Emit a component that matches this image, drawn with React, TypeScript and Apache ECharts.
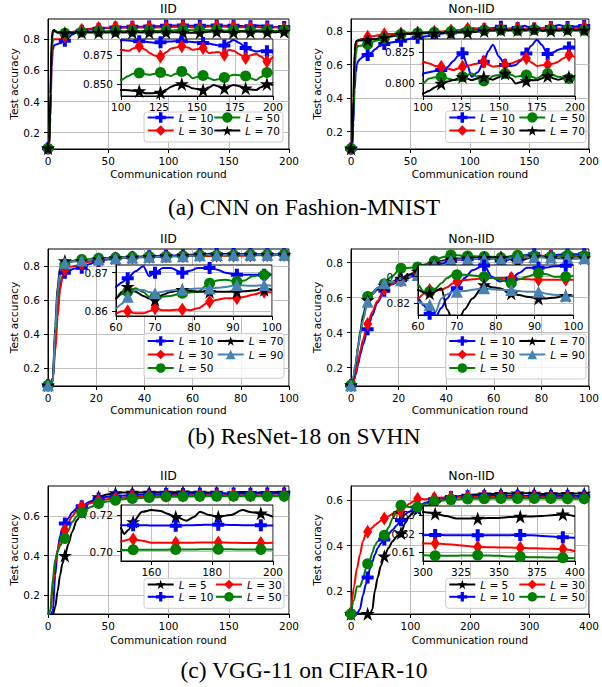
import React, { useEffect, useRef } from "react";
import * as echarts from "echarts";

// ---------------- DATA ----------------
// (a) CNN on Fashion-MNIST, IID
const aRounds = [0,1,2,3,4,5,6,8,10,12,14,17,20,24,28,35,42,49,56,63,70,77,84,91,98,100,105,108,112,116,119,122,126,130,133,136,140,144,147,150,154,158,161,164,168,171,174,178,182,185,189,192,196,200];
const aIidL10 = [0.10,0.12,0.30,0.62,0.73,0.76,0.765, 0.77,0.775,0.78,0.79, 0.81,0.83,0.845,0.855, 0.862,0.868,0.872,0.876, 0.878,0.88,0.881,0.882, 0.884,0.886,0.8885,0.888, 0.8875,0.8875,0.887,0.8865, 0.8862,0.8865,0.887,0.8872, 0.8875,0.8875,0.887,0.8868, 0.8865,0.886,0.8855,0.8845, 0.8838,0.8836,0.8865,0.8885, 0.886,0.8815,0.880,0.8785, 0.879,0.8787,0.8785];
const aIidL30 = [0.10,0.13,0.35,0.70,0.79,0.80,0.80, 0.80,0.80,0.805,0.82, 0.835,0.845,0.855,0.86, 0.868,0.872,0.874,0.878, 0.874,0.878,0.875,0.879, 0.876,0.879,0.880,0.879, 0.881,0.883,0.880,0.877, 0.875,0.874,0.878,0.881, 0.882,0.883,0.882,0.880, 0.8805,0.8815,0.877,0.8775, 0.878,0.8756,0.880,0.879, 0.876,0.8727,0.875,0.8765, 0.874,0.8697,0.8738];
const aIidL50 = [0.10,0.12,0.40,0.75,0.84,0.86,0.855, 0.845,0.84,0.838,0.838, 0.84,0.843,0.845,0.846, 0.848,0.85,0.851,0.852, 0.851,0.853,0.852,0.854, 0.853,0.855,0.8535,0.857, 0.859,0.8595,0.8585,0.858, 0.859,0.860,0.858,0.857, 0.859,0.861,0.8585,0.855, 0.856,0.8573,0.855,0.8535, 0.854,0.8556,0.857,0.858, 0.8575,0.857,0.855,0.8535, 0.856,0.860,0.859];
const aIidL70 = [0.10,0.11,0.45,0.80,0.855,0.86,0.85, 0.842,0.84,0.84,0.84, 0.841,0.842,0.842,0.843, 0.843,0.844,0.844,0.845, 0.844,0.845,0.844,0.845, 0.845,0.845,0.8447,0.8445, 0.844,0.8438,0.8418,0.8418, 0.842,0.8425,0.845,0.8476, 0.849,0.850,0.848,0.8462, 0.8455,0.8447,0.847,0.8491, 0.848,0.8462,0.848,0.8491, 0.848,0.8462,0.845,0.8447, 0.847,0.850,0.849];

// (a) CNN on Fashion-MNIST, Non-IID
const aNRounds = [0,1,2,3,4,5,6,8,10,12,14,17,20,24,28,35,42,49,56,63,70,77,84,91,98,100,104,108,112,116,120,123,126,129,132,136,140,143,146,150,154,158,161,164,168,171,175,178,182,186,189,192,196,200];
const aNonL10 = [0.10,0.11,0.25,0.45,0.55,0.60,0.62, 0.635,0.645,0.652,0.657, 0.67,0.69,0.71,0.722, 0.733,0.742,0.752,0.76, 0.768,0.776,0.785,0.792, 0.798,0.804,0.808,0.809, 0.810,0.8107,0.813,0.818, 0.822,0.8242,0.815,0.8053, 0.809,0.8174,0.826,0.8309, 0.8214,0.8147,0.814,0.8147, 0.818,0.824,0.830,0.835, 0.831,0.8236,0.825,0.827, 0.828,0.8287,0.828];
const aNonL30 = [0.10,0.12,0.35,0.60,0.70,0.735,0.745, 0.75,0.752,0.758,0.765, 0.768,0.77,0.775,0.78, 0.782,0.785,0.787,0.79, 0.792,0.795,0.797,0.802, 0.806,0.813,0.8174,0.816, 0.814,0.8134,0.812,0.8107, 0.812,0.8134,0.814,0.815, 0.816,0.8174,0.815,0.8134, 0.814,0.815,0.816,0.8174, 0.819,0.8201,0.817,0.814, 0.8145,0.815,0.816,0.8174, 0.820,0.8228,0.821];
const aNonL50 = [0.10,0.11,0.30,0.55,0.66,0.70,0.71, 0.712,0.715,0.718,0.72, 0.73,0.74,0.748,0.755, 0.768,0.78,0.785,0.788, 0.79,0.792,0.794,0.796, 0.798,0.80,0.800,0.804, 0.805,0.8053,0.804,0.8027, 0.803,0.8053,0.807,0.808, 0.805,0.8019,0.803,0.806, 0.8067,0.808,0.807,0.8053, 0.806,0.8067,0.8055,0.804, 0.806,0.808,0.8065,0.8053, 0.805,0.804,0.804];
const aNonL70 = [0.10,0.12,0.40,0.68,0.735,0.742,0.743, 0.743,0.744,0.745,0.746, 0.75,0.752,0.756,0.76, 0.77,0.78,0.782,0.784, 0.786,0.787,0.788,0.789, 0.79,0.791,0.792,0.794, 0.797,0.800,0.8015,0.8027, 0.804,0.8053,0.804,0.8027, 0.804,0.8053,0.804,0.803, 0.805,0.808,0.804,0.800, 0.801,0.8021,0.8025,0.8027, 0.804,0.806,0.804,0.803, 0.804,0.8053,0.805];

// (b) ResNet-18 on SVHN, IID
const bRounds = [0,1,2,3,4,5,6,7,9,11,14,17,21,24,28,31,35,38,42,45,49,52,56,58,60,61.5,63,65,67,68.5,70,72,74,77,79,81,84,86,88,91,93,95,98,100];
const bIidL10 = [0.10,0.11,0.14,0.35,0.55,0.68,0.74,0.76, 0.775,0.785,0.79, 0.81,0.83,0.838,0.845, 0.848,0.852,0.855,0.857, 0.859,0.861,0.862,0.864, 0.8655,0.8664,0.8675,0.8686, 0.8704,0.8717,0.8691,0.870, 0.8712,0.8712,0.870,0.8705, 0.8712,0.8712,0.8708,0.870, 0.8695,0.8695,0.8695,0.8695, 0.8695];
const bIidL30 = [0.10,0.12,0.14,0.30,0.50,0.66,0.74,0.78, 0.795,0.80,0.81, 0.825,0.835,0.84,0.845, 0.848,0.850,0.852,0.853, 0.855,0.856,0.857,0.858, 0.8585,0.8595,0.860,0.860, 0.8595,0.8595,0.860,0.8608, 0.8603,0.8603,0.8605,0.8603, 0.8608,0.8625,0.863,0.8634, 0.8634,0.8638,0.8643,0.8651, 0.8649];
const bIidL50 = [0.10,0.11,0.13,0.40,0.62,0.75,0.79,0.81, 0.825,0.832,0.838, 0.84,0.845,0.847,0.849, 0.851,0.853,0.855,0.856, 0.857,0.858,0.859,0.861, 0.862,0.8634,0.8645,0.8651, 0.866,0.865,0.8638,0.8637, 0.8638,0.864,0.8647,0.8649, 0.8651,0.8673,0.868,0.8682, 0.8677,0.868,0.8691,0.8694, 0.8696];
const bIidL70 = [0.10,0.11,0.12,0.45,0.68,0.79,0.82,0.83, 0.828,0.828,0.83, 0.835,0.84,0.843,0.846, 0.849,0.851,0.853,0.855, 0.857,0.858,0.859,0.861, 0.862,0.8634,0.865,0.8664, 0.8651,0.864,0.8633,0.863, 0.8643,0.865,0.8656,0.8653, 0.8651,0.8651,0.8651,0.8651, 0.8651,0.8652,0.8654,0.8656, 0.8656];
const bIidL90 = [0.10,0.11,0.12,0.42,0.65,0.77,0.81,0.82, 0.825,0.828,0.832, 0.836,0.84,0.843,0.846, 0.848,0.85,0.852,0.854, 0.855,0.856,0.857,0.858, 0.859,0.8608,0.862,0.8638, 0.8656,0.8655,0.865,0.8647, 0.8651,0.8654,0.8656,0.8658, 0.8659,0.8659,0.8661,0.8663, 0.8668,0.8667,0.8666,0.8668, 0.8666];

// (b) ResNet-18 on SVHN, Non-IID
const bNRounds = [0,1,2,3,4,5,7,9,11,14,17,21,24,28,31,35,38,42,45,49,52,56,58,60,61.5,63,64.5,66,67.5,69,70,72,74,77,79,81,84,86,88,91,93,95,98,100];
const bNonL10 = [0.10,0.12,0.16,0.22,0.28,0.33,0.42, 0.50,0.57,0.64,0.675, 0.70,0.715,0.73,0.75, 0.78,0.795,0.81,0.815, 0.82,0.822,0.825,0.8245, 0.8234,0.818,0.8116,0.809, 0.816,0.8234,0.830,0.8312, 0.839,0.845,0.8486,0.840, 0.8364,0.8385,0.8429,0.8468, 0.8468,0.847,0.8481,0.8485, 0.849];
const bNonL30 = [0.10,0.12,0.17,0.24,0.30,0.36,0.45, 0.52,0.58,0.65,0.68, 0.70,0.72,0.74,0.77, 0.80,0.81,0.815,0.818, 0.82,0.821,0.822,0.822, 0.8234,0.827,0.8298,0.830, 0.8298,0.832,0.835,0.8364, 0.8375,0.838,0.839,0.839, 0.839,0.839,0.8385,0.838, 0.8377,0.8377,0.8377,0.8377, 0.8377];
const bNonL50 = [0.10,0.14,0.22,0.33,0.42,0.50,0.606, 0.63,0.655,0.68,0.72, 0.768,0.77,0.775,0.79, 0.81,0.83,0.844,0.842, 0.838,0.836,0.835,0.834, 0.8338,0.8286,0.8286,0.831, 0.8351,0.839,0.8416,0.8416, 0.8416,0.841,0.840,0.839, 0.838,0.8351,0.838,0.840, 0.8429,0.842,0.840,0.840, 0.8405];
const bNonL70 = [0.10,0.14,0.22,0.32,0.40,0.48,0.587, 0.62,0.645,0.67,0.69, 0.71,0.73,0.75,0.77, 0.795,0.81,0.82,0.823, 0.825,0.826,0.828,0.829, 0.8298,0.828,0.8273,0.829, 0.8312,0.815,0.806,0.803, 0.815,0.8234,0.8338,0.832, 0.8312,0.8273,0.826,0.8247, 0.8234,0.8234,0.824,0.8255, 0.825];
const bNonL90 = [0.10,0.15,0.23,0.32,0.40,0.47,0.577, 0.62,0.655,0.682,0.69, 0.70,0.715,0.73,0.76, 0.79,0.805,0.815,0.818, 0.82,0.821,0.821,0.8215, 0.8208,0.819,0.8185,0.813, 0.8234,0.8265,0.8286,0.8286, 0.829,0.830,0.8312,0.8305, 0.830,0.8298,0.829,0.8286, 0.8286,0.827,0.8262,0.8255, 0.8255];

// (c) VGG-11 on CIFAR-10, IID
const cRounds = [0,2,4,6,8,10,12,14,17,20,24,28,35,42,49,56,63,70,84,98,112,126,140,150,151,152.5,154,157,160,163,165,168,171.5,174,176,179,182,186,190,193,196,200];
const cIidL5 = [0.10,0.10,0.10,0.14,0.22,0.30,0.36,0.40, 0.46,0.52,0.58,0.62, 0.67,0.698,0.71,0.718, 0.72,0.72,0.721,0.721, 0.722,0.721,0.72,0.7128, 0.7096,0.712,0.7163,0.7218, 0.7227,0.7222,0.7209,0.7191, 0.7169,0.719,0.7218,0.720, 0.7191,0.720,0.7227,0.7215, 0.721,0.7191];
const cIidL10 = [0.10,0.10,0.12,0.30,0.43,0.50,0.54,0.563, 0.59,0.62,0.64,0.65, 0.675,0.69,0.698,0.70, 0.705,0.708,0.71,0.712, 0.713,0.714,0.7145,0.7145, 0.7145,0.7145,0.7145,0.7145, 0.7143,0.7143,0.7143,0.7142, 0.7144,0.7145,0.7146,0.7147, 0.7147,0.7146,0.7145,0.7145, 0.7145,0.7143];
const cIidL30 = [0.10,0.12,0.25,0.36,0.43,0.47,0.50,0.529, 0.57,0.60,0.63,0.65, 0.665,0.68,0.686,0.69, 0.695,0.70,0.702,0.704, 0.705,0.705,0.7055,0.7054, 0.706,0.7066,0.7068,0.706, 0.7049,0.7049,0.7049,0.7049, 0.7049,0.7049,0.705,0.705, 0.705,0.7049,0.7048,0.7047, 0.7048,0.7049];
const cIidL50 = [0.10,0.12,0.28,0.38,0.42,0.45,0.47,0.487, 0.53,0.57,0.60,0.617, 0.645,0.664,0.674,0.681, 0.686,0.69,0.695,0.698, 0.70,0.7005,0.7008,0.7009, 0.7009,0.7009,0.701,0.701, 0.701,0.7011,0.7011,0.7012, 0.7012,0.7012,0.7013,0.7013, 0.7013,0.7013,0.7012,0.7012, 0.7012,0.7012];

// (c) VGG-11 on CIFAR-10, Non-IID
const cNRounds = [0,5,10,15,20,25,28,32,36,40,45,50,56,63,70,77,84,91,98,105,112,126,140,154,168,182,196,210,224,238,252,266,280,294,300,308,315,322,329,336,343,350,357,364,371,378,385,392,400];
const cNonL5 = [0.10,0.10,0.10,0.10,0.10,0.10,0.10, 0.10,0.12,0.20,0.26, 0.31,0.354,0.39,0.42, 0.44,0.456,0.50,0.53, 0.55,0.56,0.575,0.585, 0.60,0.61,0.618,0.622, 0.625,0.627,0.628,0.629, 0.63,0.631,0.6315,0.6317, 0.6309,0.6295,0.6282,0.6282, 0.6282,0.6284,0.6285,0.629, 0.6293,0.6293,0.6295,0.630, 0.6305,0.6294];
const cNonL10 = [0.10,0.10,0.10,0.12,0.18,0.23,0.26, 0.30,0.33,0.36,0.39, 0.41,0.427,0.45,0.47, 0.49,0.512,0.54,0.55, 0.56,0.57,0.59,0.605, 0.61,0.615,0.617,0.618, 0.619,0.619,0.619,0.6192, 0.6192,0.6191,0.6191,0.6191, 0.6192,0.6191,0.619,0.619, 0.6191,0.619,0.619,0.6191, 0.6192,0.619,0.6187,0.6183, 0.618,0.6177];
const cNonL30 = [0.10,0.22,0.30,0.36,0.42,0.45,0.461, 0.47,0.48,0.49,0.50, 0.51,0.52,0.53,0.54, 0.545,0.549,0.57,0.585, 0.595,0.607,0.605,0.61, 0.612,0.613,0.614,0.615, 0.615,0.615,0.615,0.615, 0.6148,0.6147,0.6146,0.6146, 0.6146,0.6142,0.6137,0.6132, 0.6127,0.6125,0.6124,0.6123, 0.6122,0.612,0.6118,0.6117, 0.6115,0.6103];
const cNonL50 = [0.10,0.16,0.22,0.22,0.25,0.30,0.32, 0.34,0.37,0.40,0.42, 0.43,0.446,0.48,0.52, 0.555,0.578,0.575,0.57, 0.57,0.57,0.585,0.595, 0.60,0.603,0.605,0.606, 0.607,0.607,0.6075,0.608, 0.608,0.6082,0.6082,0.6082, 0.6079,0.6078,0.6079,0.608, 0.6081,0.608,0.6078,0.6075, 0.6073,0.6071,0.607,0.6069, 0.6068,0.6065];

// tick labels
const mainTicksA = [0.2, 0.4, 0.6, 0.8];
const mainTicksC = [0.2, 0.4, 0.6];

// ---------------- STYLE ----------------
const FONT = "DejaVu Sans";
const BLUE = "#0000ff", RED = "#ff0000", GREEN = "#008000", BLACK = "#000000", STEEL = "#4682b4";
const PLUS = "path://M-2,-6H2V-2H6V2H2V6H-2V2H-6V-2H-2Z";
const STAR = "path://M0,-100L22.45,-30.9L95.1,-30.9L36.3,11.8L58.8,80.9L0,38.2L-58.8,80.9L-36.3,11.8L-95.1,-30.9L-22.45,-30.9Z";
const STYLE: Record<string, { color: string; symbol: string; size: number | number[] }> = {
  "L = 5": { color: BLACK, symbol: STAR, size: 14 },
  "L = 10": { color: BLUE, symbol: PLUS, size: 12 },
  "L = 30": { color: RED, symbol: "diamond", size: [9, 14] },
  "L = 50": { color: GREEN, symbol: "circle", size: 11 },
  "L = 70": { color: BLACK, symbol: STAR, size: 14 },
  "L = 90": { color: STEEL, symbol: "triangle", size: 12 },
};

type Box = { left: number; top: number; width: number; height: number };
type Panel = {
  id: string;
  title: string;
  titleX: number;
  titleY: number;
  xs: number[];
  lines: [string, number[]][];
  every: number;
  main: Box & { xMax: number; xInt: number; yMin: number; yMax: number; yTicks: number[]; nameGap: number };
  inset: Box & { xMin: number; xMax: number; xTicks: number[]; yMin: number; yMax: number; yTicks: number[]; dig: number };
  legendCols: string[][];
  legend: { cols: number[]; top: number; ih: number; gap: number; box: number[] };
};

const panels: Panel[] = [
  {
    id: "a1", title: "IID", titleX: 168.5, titleY: 8.5, xs: aRounds, every: 14,
    lines: [["L = 10", aIidL10], ["L = 30", aIidL30], ["L = 50", aIidL50], ["L = 70", aIidL70]],
    main: { left: 48, top: 19, width: 241, height: 130, xMax: 200, xInt: 50, yMin: 0.095, yMax: 0.93, yTicks: mainTicksA, nameGap: 19 },
    inset: { left: 121, top: 39, width: 152, height: 57, xMin: 100, xMax: 200, xTicks: [100, 125, 150, 175, 200], yMin: 0.8394, yMax: 0.8894, yTicks: [0.85, 0.875], dig: 3 },
    legendCols: [["L = 10", "L = 30"], ["L = 50", "L = 70"]],
    legend: { cols: [146.7, 213.3], top: 112, ih: 13, gap: 2, box: [144, 112, 139, 30] },
  },
  {
    id: "a2", title: "Non-IID", titleX: 471.5, titleY: 8.5, xs: aNRounds, every: 14,
    lines: [["L = 10", aNonL10], ["L = 30", aNonL30], ["L = 50", aNonL50], ["L = 70", aNonL70]],
    main: { left: 351, top: 19, width: 241, height: 130, xMax: 200, xInt: 50, yMin: 0.097, yMax: 0.871, yTicks: mainTicksA, nameGap: 19 },
    inset: { left: 423, top: 39, width: 152, height: 57, xMin: 100, xMax: 200, xTicks: [100, 125, 150, 175, 200], yMin: 0.79, yMax: 0.8355, yTicks: [0.8, 0.825], dig: 3 },
    legendCols: [["L = 10", "L = 30"], ["L = 50", "L = 70"]],
    legend: { cols: [448.3, 518.3], top: 112, ih: 13, gap: 2, box: [445.7, 111, 140.3, 31.5] },
  },
  {
    id: "b1", title: "IID", titleX: 168.5, titleY: 238.3, xs: bRounds, every: 7,
    lines: [["L = 10", bIidL10], ["L = 30", bIidL30], ["L = 50", bIidL50], ["L = 70", bIidL70], ["L = 90", bIidL90]],
    main: { left: 48, top: 249, width: 241, height: 137, xMax: 100, xInt: 20, yMin: 0.096, yMax: 0.9, yTicks: mainTicksA, nameGap: 18.5 },
    inset: { left: 116, top: 265, width: 156, height: 51, xMin: 60, xMax: 100, xTicks: [60, 70, 80, 90, 100], yMin: 0.8588, yMax: 0.872, yTicks: [0.86, 0.87], dig: 2 },
    legendCols: [["L = 10", "L = 30", "L = 50"], ["L = 70", "L = 90"]],
    legend: { cols: [146.7, 216.7], top: 335.5, ih: 12, gap: 2.5, box: [144, 333.3, 140, 45] },
  },
  {
    id: "b2", title: "Non-IID", titleX: 471.5, titleY: 238.3, xs: bNRounds, every: 7,
    lines: [["L = 10", bNonL10], ["L = 30", bNonL30], ["L = 50", bNonL50], ["L = 70", bNonL70], ["L = 90", bNonL90]],
    main: { left: 351, top: 249, width: 241, height: 137, xMax: 100, xInt: 20, yMin: 0.095, yMax: 0.878, yTicks: mainTicksA, nameGap: 18.5 },
    inset: { left: 418, top: 265, width: 155.5, height: 50, xMin: 60, xMax: 100, xTicks: [60, 70, 80, 90, 100], yMin: 0.8107, yMax: 0.849, yTicks: [0.82, 0.84], dig: 2 },
    legendCols: [["L = 10", "L = 30", "L = 50"], ["L = 70", "L = 90"]],
    legend: { cols: [448.3, 518.3], top: 335.5, ih: 12, gap: 2.5, box: [445.7, 334, 140.3, 45] },
  },
  {
    id: "c1", title: "IID", titleX: 168.5, titleY: 475, xs: cRounds, every: 14,
    lines: [["L = 5", cIidL5], ["L = 10", cIidL10], ["L = 30", cIidL30], ["L = 50", cIidL50]],
    main: { left: 48, top: 486, width: 241, height: 128, xMax: 200, xInt: 50, yMin: 0.104, yMax: 0.753, yTicks: mainTicksC, nameGap: 20.5 },
    inset: { left: 121, top: 505, width: 152, height: 56, xMin: 150, xMax: 200, xTicks: [160, 180, 200], yMin: 0.6949, yMax: 0.7255, yTicks: [0.7, 0.72], dig: 2 },
    legendCols: [["L = 5", "L = 10"], ["L = 30", "L = 50"]],
    legend: { cols: [146.7, 215], top: 579, ih: 12, gap: 1.3, box: [144, 578.3, 140, 30] },
  },
  {
    id: "c2", title: "Non-IID", titleX: 471.5, titleY: 475, xs: cNRounds, every: 28,
    lines: [["L = 5", cNonL5], ["L = 10", cNonL10], ["L = 30", cNonL30], ["L = 50", cNonL50]],
    main: { left: 351, top: 486, width: 241, height: 128, xMax: 400, xInt: 100, yMin: 0.099, yMax: 0.663, yTicks: mainTicksC, nameGap: 20.5 },
    inset: { left: 423, top: 506, width: 152, height: 55, xMin: 300, xMax: 400, xTicks: [300, 325, 350, 375, 400], yMin: 0.605, yMax: 0.635, yTicks: [0.61, 0.62, 0.63], dig: 2 },
    legendCols: [["L = 5", "L = 10"], ["L = 30", "L = 50"]],
    legend: { cols: [448.3, 518.3], top: 579, ih: 12, gap: 1.3, box: [445.7, 578.3, 140.3, 30] },
  },
];

const captions: [string, number][] = [
  ["(a) CNN on Fashion-MNIST", 207],
  ["(b) ResNet-18 on SVHN", 436],
  ["(c) VGG-11 on CIFAR-10", 670],
];

// ---------------- OPTION ----------------
function buildOption() {
  const grid: any[] = [];
  const xAxis: any[] = [];
  const yAxis: any[] = [];
  const series: any[] = [];
  const legend: any[] = [];
  const graphic: any[] = [];

  const tickStyle = { show: true, length: 4, lineStyle: { color: "#000", width: 1 } };
  const split = { show: true, lineStyle: { color: "#b0b0b0", width: 0.8 } };
  const lbl = { color: "#000", fontFamily: FONT, fontSize: 10.5 };

  panels.forEach((p) => {
    const gm = grid.length;
    grid.push({ left: p.main.left, top: p.main.top, width: p.main.width, height: p.main.height, show: true, borderColor: "#000", borderWidth: 1, backgroundColor: "transparent", z: 0 });
    xAxis.push({
      gridIndex: gm, type: "value", min: 0, max: p.main.xMax, interval: p.main.xInt, z: 1,
      name: "Communication round", nameLocation: "middle", nameGap: p.main.nameGap,
      nameTextStyle: { color: "#000", fontFamily: FONT, fontSize: 10.5 },
      axisLine: { show: true, onZero: false, lineStyle: { color: "#000", width: 1 } },
      axisTick: tickStyle, axisLabel: { ...lbl, margin: 6 }, splitLine: split,
    });
    yAxis.push({
      gridIndex: gm, type: "value", min: p.main.yMin, max: p.main.yMax, z: 1,
      name: "Test accuracy", nameLocation: "middle", nameGap: 28,
      nameTextStyle: { color: "#000", fontFamily: FONT, fontSize: 10.5 },
      axisLine: { show: true, onZero: false, lineStyle: { color: "#000", width: 1 } },
      axisTick: { ...tickStyle, customValues: p.main.yTicks },
      axisLabel: { ...lbl, margin: 8, customValues: p.main.yTicks, formatter: (v: number) => v.toFixed(1) },
      splitLine: split,
    });

    const gi = grid.length;
    grid.push({ left: p.inset.left, top: p.inset.top, width: p.inset.width, height: p.inset.height, show: true, borderColor: "#000", borderWidth: 1, backgroundColor: "#ffffff", z: 5 });
    xAxis.push({
      gridIndex: gi, type: "value", min: p.inset.xMin, max: p.inset.xMax, z: 6,
      axisLine: { show: true, onZero: false, lineStyle: { color: "#000", width: 1 } },
      axisTick: { ...tickStyle, customValues: p.inset.xTicks },
      axisLabel: { ...lbl, margin: 5, lineHeight: 11, customValues: p.inset.xTicks },
      splitLine: split,
    });
    yAxis.push({
      gridIndex: gi, type: "value", min: p.inset.yMin, max: p.inset.yMax, z: 6,
      axisLine: { show: true, onZero: false, lineStyle: { color: "#000", width: 1 } },
      axisTick: { ...tickStyle, customValues: p.inset.yTicks },
      axisLabel: { ...lbl, margin: 8, customValues: p.inset.yTicks, formatter: (v: number) => v.toFixed(p.inset.dig) },
      splitLine: split,
    });

    const mk = (x: number) => Number.isInteger(x) && x % p.every === 0;
    p.lines.forEach(([label, ys]) => {
      const st = STYLE[label];
      const data = p.xs.map((x, i) => (mk(x) ? [x, ys[i]] : { value: [x, ys[i]], symbol: "none" }));
      const base = {
        type: "line", data, smooth: 0.3, smoothMonotone: "x",
        symbol: st.symbol, symbolSize: st.size, showSymbol: true, showAllSymbol: true,
        lineStyle: { color: st.color, width: 2 },
        itemStyle: { color: st.color, borderColor: st.color, borderWidth: 0 },
        emphasis: { disabled: true }, silent: true, clip: true, animation: false,
      };
      series.push({ ...base, name: `${p.id}|${label}`, xAxisIndex: gm, yAxisIndex: gm, z: 2 });
      series.push({ ...base, name: `${p.id}#inset|${label}`, xAxisIndex: gi, yAxisIndex: gi, z: 7 });
    });

    p.legendCols.forEach((col, ci) => {
      legend.push({
        show: true, orient: "vertical", left: p.legend.cols[ci], top: p.legend.top, padding: 0,
        itemWidth: 26, itemHeight: p.legend.ih, itemGap: p.legend.gap, selectedMode: false,
        data: col.map((n) => `${p.id}|${n}`),
        formatter: (name: string) => `{i|L} = ${name.split("=")[1].trim()}`,
        textStyle: { color: "#000", fontFamily: FONT, fontSize: 10.5, lineHeight: 11, rich: { i: { color: "#000", fontFamily: FONT, fontSize: 10.5, lineHeight: 11, fontStyle: "italic" } } },
        z: 10,
      });
    });

    const b = p.legend.box;
    graphic.push({ type: "rect", z: 9, silent: true, shape: { x: b[0], y: b[1], width: b[2], height: b[3], r: 3 }, style: { fill: "rgba(255,255,255,0.8)", stroke: "#cccccc", lineWidth: 1 } });
    graphic.push({ type: "text", z: 9, silent: true, x: p.titleX, y: p.titleY, style: { text: p.title, fill: "#000", fontFamily: FONT, fontSize: 12.5, align: "center", verticalAlign: "middle" } });
  });

  captions.forEach(([t, y]) => {
    graphic.push({ type: "text", z: 9, silent: true, x: 304, y, style: { text: t, fill: "#000", fontFamily: "Liberation Serif", fontSize: 23.5, align: "center", verticalAlign: "middle" } });
  });

  return { animation: false, backgroundColor: "#ffffff", grid, xAxis, yAxis, series, legend, graphic };
}

export default function App() {
  const ref = useRef<HTMLDivElement>(null);
  useEffect(() => {
    const chart = echarts.init(ref.current as HTMLDivElement, null, { renderer: "svg", width: 602, height: 687 });
    chart.setOption(buildOption() as any);
    return () => chart.dispose();
  }, []);
  return <div ref={ref} style={{ position: "fixed", left: 0, top: 0, width: 602, height: 687, background: "#fff" }} />;
}
